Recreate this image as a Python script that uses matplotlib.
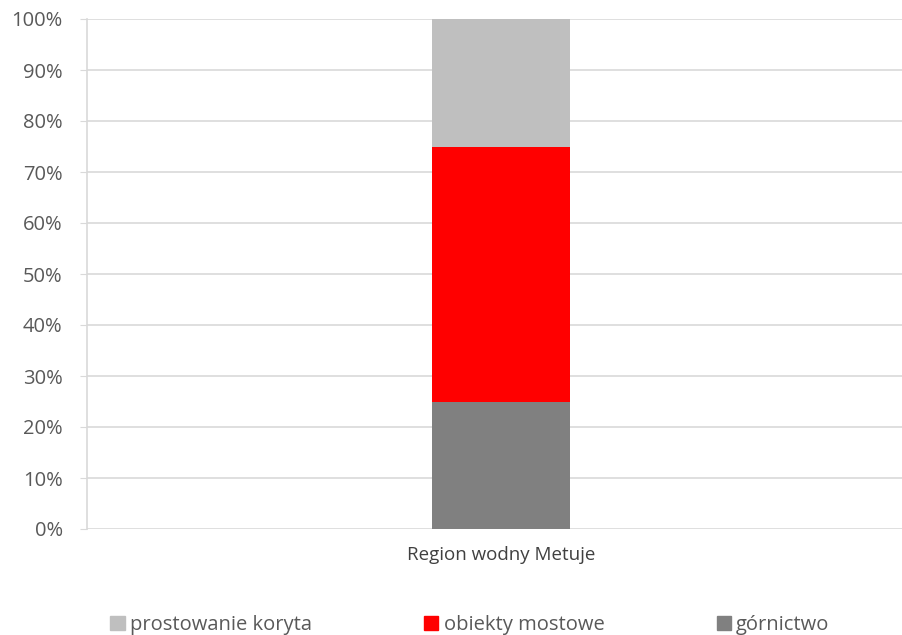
import matplotlib.pyplot as plt
from matplotlib.patches import Patch
import numpy as np

plt.rcParams['font.family'] = ['Open Sans', 'DejaVu Sans']

categories = ['Region wodny Metuje']
series = ['górnictwo', 'obiekty mostowe', 'prostowanie koryta']
values = [[0.25], [0.50], [0.25]]
colors = ['#808080', '#FF0000', '#BFBFBF']
yticks = [0, 10, 20, 30, 40, 50, 60, 70, 80, 90, 100]

fig = plt.figure(figsize=(9.03, 6.35), dpi=100)
ax = fig.add_axes([87 / 903, 1 - 529 / 635, 828 / 903, 510 / 635])

x = np.arange(len(categories))
bottom = np.zeros(len(categories))
for name, vals, col in zip(series, values, colors):
    ax.bar(x, vals, bottom=bottom, width=0.167, color=col, zorder=2, label=name)
    bottom += np.array(vals)

ax.set_xlim(-0.5, 0.5)
ax.set_ylim(0, 1)
ax.set_yticks([t / 100 for t in yticks])
ax.set_yticklabels([f'{t}%' for t in yticks], fontsize=14.5, color='#595959')
ax.set_xticks(x)
ax.set_xticklabels(categories, fontsize=13.5, color='#404040')
ax.tick_params(axis='x', length=0, pad=12)
ax.tick_params(axis='y', length=5, color='#D9D9D9', pad=12.5)
ax.yaxis.grid(True, color='#D9D9D9', linewidth=1.2, zorder=0)
for s in ['top', 'right', 'bottom']:
    ax.spines[s].set_visible(False)
ax.spines['left'].set_color('#D9D9D9')
ax.spines['left'].set_linewidth(1.2)

# legend order as in the reference
handles = [Patch(color=colors[2]), Patch(color=colors[1]), Patch(color=colors[0])]
labels = [series[2], series[1], series[0]]
fig.legend(handles, labels, loc='center', bbox_to_anchor=(470 / 903, 1 - 625 / 635),
           ncol=3, frameon=False, fontsize=14.5, handlelength=0.7, handleheight=0.7,
           handletextpad=0.25, columnspacing=5.6, labelcolor='#595959')

plt.savefig('out.png', dpi=100)
